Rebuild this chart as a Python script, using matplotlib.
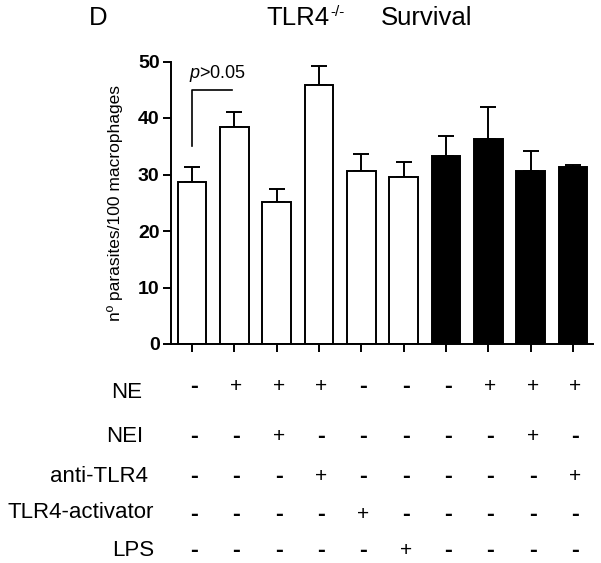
import numpy as np
import matplotlib
matplotlib.use('Agg')
import matplotlib.pyplot as plt
import matplotlib.transforms as mtransforms

plt.rcParams['font.family'] = ['Liberation Sans', 'DejaVu Sans']
plt.rcParams['mathtext.fontset'] = 'custom'
plt.rcParams['mathtext.rm'] = 'Liberation Sans'
plt.rcParams['mathtext.it'] = 'Liberation Sans:italic'

# data
means = [28.6, 38.4, 25.1, 45.9, 30.6, 29.6, 33.2, 36.2, 30.7, 31.4]
errs = [2.8, 2.7, 2.3, 3.3, 3.0, 2.6, 3.6, 5.7, 3.5, 0.3]
colors = ['white'] * 6 + ['black'] * 4
rows = ['NE', 'NEI', 'anti-TLR4', 'TLR4-activator', 'LPS']
table = [
    ['-', '+', '+', '+', '-', '-', '-', '+', '+', '+'],
    ['-', '-', '+', '-', '-', '-', '-', '-', '+', '-'],
    ['-', '-', '-', '+', '-', '-', '-', '-', '-', '+'],
    ['-', '-', '-', '-', '+', '-', '-', '-', '-', '-'],
    ['-', '-', '-', '-', '-', '+', '-', '-', '-', '-'],
]
yticks = [0, 10, 20, 30, 40, 50]

W, H = 601, 563
fig = plt.figure(figsize=(W / 100, H / 100), dpi=100)
ax = fig.add_axes([170.7 / W, 1 - 344 / H, (593 - 170.7) / W, (344 - 61.5) / H])

x = np.arange(len(means))
ax.bar(x, means, width=0.675, color=colors, edgecolor='black', linewidth=1.4, zorder=2)
ax.errorbar(x, means, yerr=[np.zeros(len(errs)), errs], fmt='none', ecolor='black',
            elinewidth=1.4, capsize=6, capthick=1.4, zorder=1)

ax.set_xlim(-0.5, 9.47)
ax.set_ylim(0, 50)
ax.set_xticks(x)
ax.set_xticklabels([])
ax.set_yticks(yticks)
ax.set_yticklabels([str(t) for t in yticks], fontsize=14, fontweight='bold')
ax.tick_params(axis='both', direction='out', length=6, width=1.4)
ax.tick_params(axis='y', pad=2)
for s in ['top', 'right']:
    ax.spines[s].set_visible(False)
for s in ['left', 'bottom']:
    ax.spines[s].set_linewidth(1.4)
ax.set_ylabel('nº parasites/100 macrophages', fontsize=12.5, labelpad=11)

# significance bracket
ax.plot([0, 0, 0.94], [35, 44.9, 44.9], color='black', lw=1.2, clip_on=False)
ax.text(0.6, 47.8, r'$\mathit{p}$>0.05', fontsize=13, ha='center', va='center')

# titles
fig.text(89 / W, 1 - 18 / H, 'D', fontsize=18.5, va='center', ha='left')
fig.text(266 / W, 1 - 18 / H, 'TLR4', fontsize=18.5, va='center', ha='left')
fig.text(330 / W, 1 - 12 / H, '-/-', fontsize=11, va='center', ha='left')
fig.text(381 / W, 1 - 18 / H, 'Survival', fontsize=18.5, va='center', ha='left')

# treatment table: columns follow the bars
trans = mtransforms.blended_transform_factory(ax.transData, fig.transFigure)
label_right = [142, 143, 148, 154, 154]
label_y = [392, 437, 477, 513, 550]
sym_y = [387, 436, 476, 514, 551]
for lab, lx, ly, sy, vals in zip(rows, label_right, label_y, sym_y, table):
    fig.text(lx / W, 1 - ly / H, lab, fontsize=16, ha='right', va='center')
    for xi, v in zip(x, vals):
        if v == '+':
            ax.text(xi + 0.05, 1 - sy / H, v, transform=trans, fontsize=15,
                    ha='center', va='center')
        else:
            ax.text(xi + 0.05, 1 - sy / H, v, transform=trans, fontsize=17,
                    fontweight='bold', ha='center', va='center')

fig.savefig('out.png', dpi=100)
